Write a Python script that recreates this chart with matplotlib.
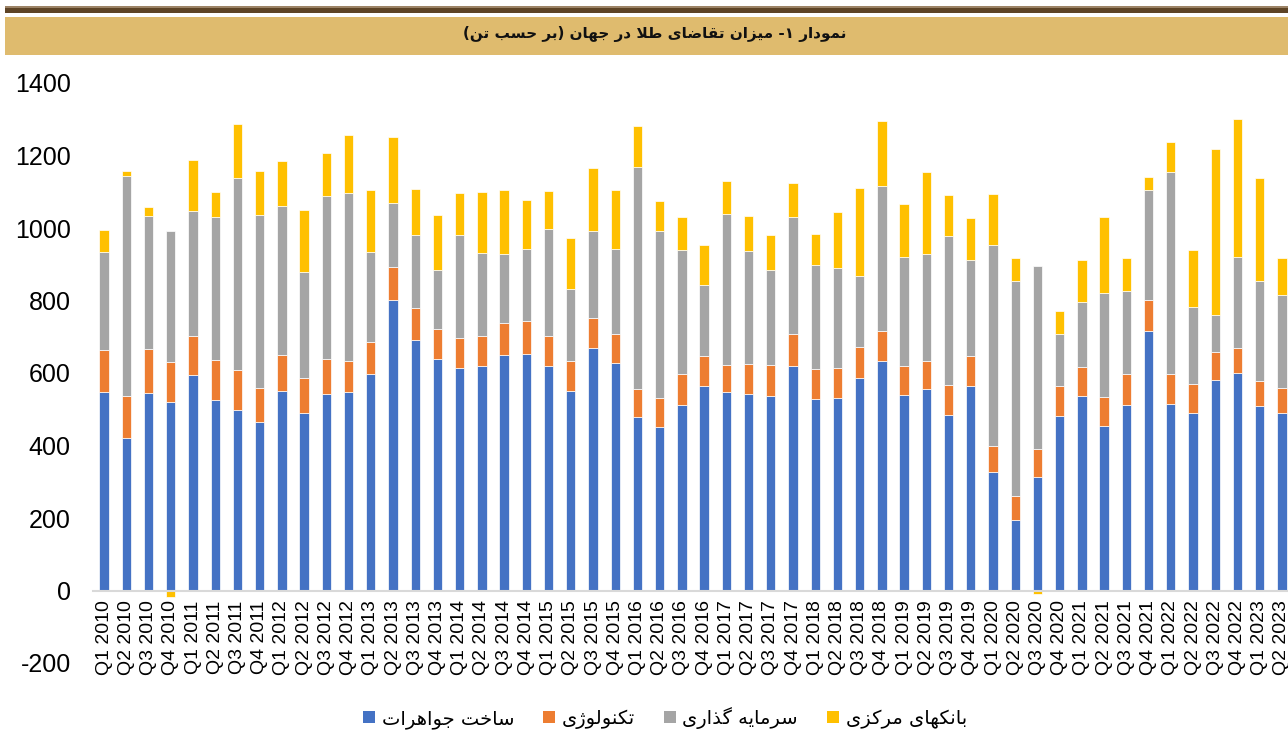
import matplotlib
matplotlib.use("Agg")
import matplotlib.pyplot as plt
from matplotlib.patches import Patch, Rectangle
import numpy as np

plt.rcParams["axes.unicode_minus"] = False
plt.rcParams["font.family"] = ["Liberation Sans", "DejaVu Sans"]

# quarterly world gold demand, tonnes (Q1 2010 .. Q2 2023)
years = list(range(2010, 2024))
quarters = [f"Q{q} {y}" for y in years for q in (1, 2, 3, 4)][:54]

jewellery = [548, 421, 546, 519, 594, 526, 499, 464, 550, 489, 543, 548,
             597, 802, 691, 638, 614, 618, 649, 653, 620, 551, 670, 628,
             479, 452, 513, 564, 547, 543, 537, 620, 528, 531, 587, 632,
             540, 555, 485, 564, 327, 194, 312, 481, 537, 454, 513, 716,
             515, 491, 581, 599, 509, 489]
technology = [115, 116, 119, 112, 109, 111, 109, 96, 101, 97, 96, 86,
              88, 91, 88, 84, 82, 85, 89, 90, 83, 82, 82, 80,
              77, 80, 83, 83, 76, 83, 84, 88, 82, 84, 86, 85,
              80, 79, 81, 82, 72, 68, 77, 83, 80, 80, 84, 86,
              82, 79, 77, 71, 69, 70]
investment = [271, 606, 369, 361, 344, 392, 531, 475, 410, 293, 450, 463,
              249, 177, 202, 163, 284, 227, 190, 199, 295, 198, 240, 235,
              613, 460, 344, 195, 416, 310, 264, 323, 289, 276, 195, 400,
              301, 293, 413, 265, 554, 592, 505, 144, 179, 287, 230, 304,
              558, 212, 102, 251, 275, 257]
central_banks = [60, 15, 25, -18, 141, 69, 148, 121, 123, 171, 118, 159,
                 172, 180, 127, 151, 117, 168, 177, 135, 104, 141, 173, 162,
                 111, 83, 89, 110, 91, 96, 96, 93, 84, 153, 241, 177,
                 145, 228, 112, 116, 140, 64, -9, 63, 115, 209, 89, 34,
                 81, 157, 458, 381, 285, 101]

series_names = ["ساخت جواهرات", "تکنولوژی", "سرمایه گذاری", "بانکهای مرکزی"]
colors = ["#4472C4", "#ED7D31", "#A5A5A5", "#FFC000"]
title = "نمودار ۱- میزان تقاضای طلا در جهان (بر حسب تن)"

# matplotlib does no arabic shaping, so pick presentation forms by hand
# (isolated, final, initial, medial)
FORMS = {
    "ا": ("\uFE8D", "\uFE8E", None, None),
    "ب": ("\uFE8F", "\uFE90", "\uFE91", "\uFE92"),
    "ت": ("\uFE95", "\uFE96", "\uFE97", "\uFE98"),
    "ج": ("\uFE9D", "\uFE9E", "\uFE9F", "\uFEA0"),
    "ح": ("\uFEA1", "\uFEA2", "\uFEA3", "\uFEA4"),
    "خ": ("\uFEA5", "\uFEA6", "\uFEA7", "\uFEA8"),
    "د": ("\uFEA9", "\uFEAA", None, None),
    "ذ": ("\uFEAB", "\uFEAC", None, None),
    "ر": ("\uFEAD", "\uFEAE", None, None),
    "ز": ("\uFEAF", "\uFEB0", None, None),
    "ژ": ("\uFB8A", "\uFB8B", None, None),
    "س": ("\uFEB1", "\uFEB2", "\uFEB3", "\uFEB4"),
    "ض": ("\uFEBD", "\uFEBE", "\uFEBF", "\uFEC0"),
    "ط": ("\uFEC1", "\uFEC2", "\uFEC3", "\uFEC4"),
    "ق": ("\uFED5", "\uFED6", "\uFED7", "\uFED8"),
    "ک": ("\uFB8E", "\uFB8F", "\uFB90", "\uFB91"),
    "گ": ("\uFB92", "\uFB93", "\uFB94", "\uFB95"),
    "ل": ("\uFEDD", "\uFEDE", "\uFEDF", "\uFEE0"),
    "م": ("\uFEE1", "\uFEE2", "\uFEE3", "\uFEE4"),
    "ن": ("\uFEE5", "\uFEE6", "\uFEE7", "\uFEE8"),
    "ه": ("\uFEE9", "\uFEEA", "\uFEEB", "\uFEEC"),
    "و": ("\uFEED", "\uFEEE", None, None),
    "ی": ("\uFBFC", "\uFBFD", "\uFBFE", "\uFBFF"),
}


def rtl(text):
    out = []
    i = 0
    while i < len(text):
        ch = text[i]
        if ch not in FORMS:
            out.append(ch)
            i += 1
            continue
        prev = text[i - 1] if i > 0 else ""
        joins_prev = prev in FORMS and FORMS[prev][2] is not None
        if ch == "ل" and i + 1 < len(text) and text[i + 1] == "ا":
            out.append("\uFEFC" if joins_prev else "\uFEFB")
            i += 2
            continue
        nxt = text[i + 1] if i + 1 < len(text) else ""
        joins_next = FORMS[ch][2] is not None and nxt in FORMS
        iso, fin, ini, med = FORMS[ch]
        if joins_prev and joins_next:
            out.append(med)
        elif joins_prev:
            out.append(fin)
        elif joins_next:
            out.append(ini)
        else:
            out.append(iso)
        i += 1
    swap = {"(": ")", ")": "("}
    return "".join(swap.get(c, c) for c in reversed(out))


fig = plt.figure(figsize=(12.88, 7.33), dpi=100)

# header: brown rule and tan band
fig.add_artist(Rectangle((0.004, 1 - 8 / 733), 0.996, 1.5 / 733,
                         transform=fig.transFigure, color="#9C8366", lw=0))
fig.add_artist(Rectangle((0.004, 1 - 13 / 733), 0.996, 5 / 733,
                         transform=fig.transFigure, color="#5E4426", lw=0))
fig.add_artist(Rectangle((0.004, 1 - 55 / 733), 0.996, 38 / 733,
                         transform=fig.transFigure, color="#DFBB6E", lw=0))
fig.text(0.508, 1 - 34 / 733, rtl(title), ha="center", va="center",
         fontsize=11, fontweight="bold", family="DejaVu Sans", color="#111111")

ax = fig.add_axes([93 / 1288, 1 - 663 / 733, 1200 / 1288, 580 / 733])

for side in ("top", "right", "left"):
    ax.spines[side].set_visible(False)
ax.spines["bottom"].set_position(("data", 0))
ax.spines["bottom"].set_color("#D9D9D9")
ax.spines["bottom"].set_linewidth(1.5)
ax.spines["bottom"].set_zorder(3)

x = np.arange(len(quarters))
data = [jewellery, technology, investment, central_banks]
pos_base = np.zeros(len(x))
neg_base = np.zeros(len(x))
for vals, color, name in zip(data, colors, series_names):
    vals = np.array(vals, dtype=float)
    bottom = np.where(vals >= 0, pos_base, neg_base)
    ax.bar(x, vals, 0.42, bottom=bottom, color=color,
           edgecolor="white", linewidth=0.5, label=name, zorder=2)
    pos_base = pos_base + np.clip(vals, 0, None)
    neg_base = neg_base + np.clip(vals, None, 0)

ax.set_xlim(-0.5, len(x) - 0.5)
ax.set_ylim(-200, 1400)
ax.set_yticks(range(-200, 1401, 200))
ax.set_xticks(x)
ax.set_xticklabels(quarters)
ax.tick_params(axis="both", length=0)
ax.tick_params(axis="y", pad=16, labelsize=18)
ax.tick_params(axis="x", pad=7, labelsize=14, labelrotation=90)

handles = [Patch(facecolor=c) for c in colors]
fig.legend(handles, [rtl(n) for n in series_names], loc="center",
           bbox_to_anchor=(665 / 1288, 1 - 718 / 733), ncol=4, frameon=False,
           prop={"family": "DejaVu Sans", "size": 14},
           handlelength=0.6, handleheight=0.6, handletextpad=0.35,
           columnspacing=1.5)

fig.savefig("out.png", dpi=100)
